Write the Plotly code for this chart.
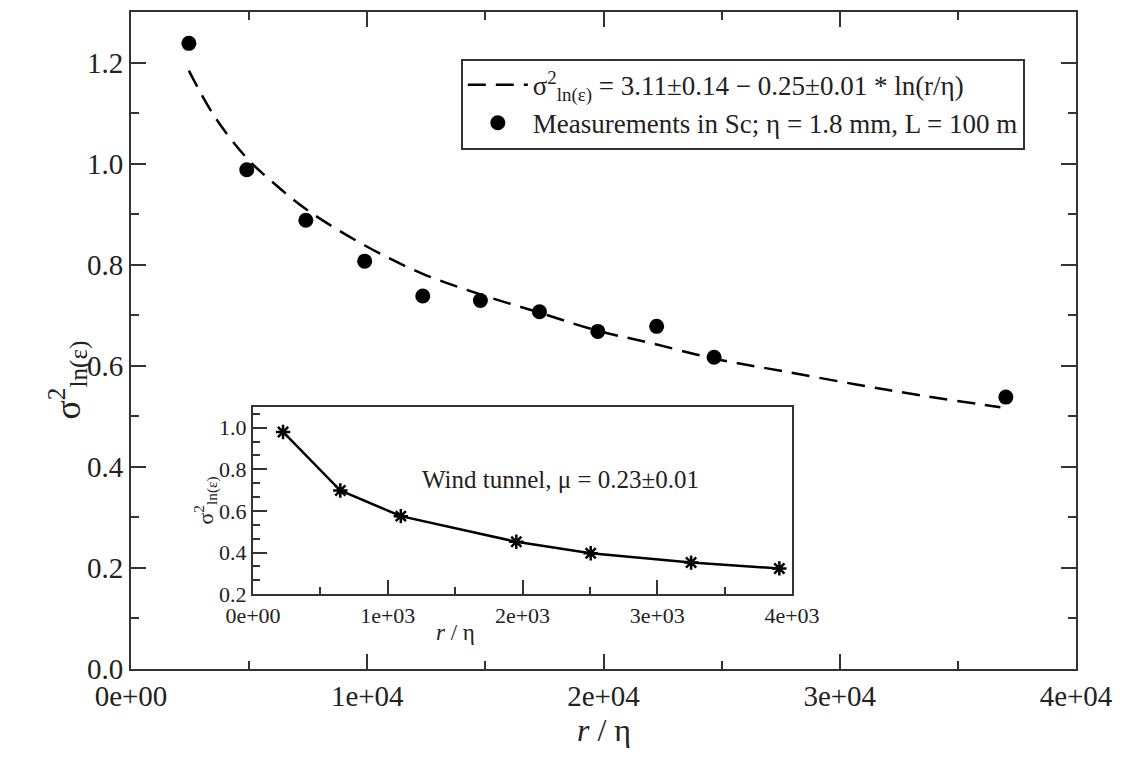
import plotly.graph_objects as go

# Main panel: measurements in the surface layer
r_meas = [2450, 4900, 7400, 9890, 12350, 14790, 17290, 19760, 22250, 24680, 37030]
sig_meas = [1.238, 0.988, 0.888, 0.807, 0.738, 0.729, 0.707, 0.668, 0.678, 0.617, 0.538]

# Fitted log curve
r_fit = [2450, 3500, 4900, 6000, 7400, 9900, 12300, 14800, 17300, 19700, 22000, 24700, 27500, 30700, 33500, 36800]
sig_fit = [1.184, 1.096, 1.011, 0.963, 0.910, 0.838, 0.783, 0.741, 0.705, 0.670, 0.645, 0.614, 0.590, 0.563, 0.541, 0.518]

# Inset: wind tunnel
r_wt = [223, 648, 1097, 1954, 2506, 3251, 3906]
sig_wt = [0.979, 0.698, 0.575, 0.452, 0.397, 0.352, 0.324]

x_ticks = [0, 10000, 20000, 30000, 40000]
x_tick_labels = ["0e+00", "1e+04", "2e+04", "3e+04", "4e+04"]
y_ticks = [0.0, 0.2, 0.4, 0.6, 0.8, 1.0, 1.2]
y_tick_labels = ["0.0", "0.2", "0.4", "0.6", "0.8", "1.0", "1.2"]
xi_ticks = [0, 1000, 2000, 3000, 4000]
xi_tick_labels = ["0e+00", "1e+03", "2e+03", "3e+03", "4e+03"]
yi_ticks = [0.2, 0.4, 0.6, 0.8, 1.0]
yi_tick_labels = ["0.2", "0.4", "0.6", "0.8", "1.0"]

FONT = "Liberation Serif"
FRAME = "#333333"
TXT = "#222"

fig = go.Figure()
fig.add_trace(go.Scatter(
    x=r_fit, y=sig_fit, mode="lines", line_shape="spline",
    line=dict(color="black", width=2.5, dash="18px,10px"),
    name="σ<sup>2</sup><sub>ln(ε)</sub> = 3.11±0.14 − 0.25±0.01 * ln(r/η)",
    xaxis="x", yaxis="y"))
fig.add_trace(go.Scatter(
    x=r_meas, y=sig_meas, mode="markers",
    marker=dict(color="black", size=15, symbol="circle"),
    name="Measurements in Sc; η = 1.8 mm, L = 100 m",
    xaxis="x", yaxis="y"))
fig.add_trace(go.Scatter(
    x=r_wt, y=sig_wt, mode="lines+markers",
    line=dict(color="black", width=2.5),
    marker=dict(symbol="asterisk-open", size=12, color="black", line=dict(color="black", width=2.5)),
    showlegend=False, xaxis="x2", yaxis="y2"))

axis_common = dict(showline=True, linecolor=FRAME, linewidth=2, ticks="inside",
                   tickcolor=FRAME, tickwidth=2, showgrid=False, zeroline=False)

fig.update_layout(
    width=1121, height=741,
    margin=dict(l=123, r=53, t=2, b=80),
    paper_bgcolor="white", plot_bgcolor="white",
    font=dict(family=FONT, color=TXT),
    xaxis=dict(domain=[0, 1], range=[0, 40000], tickvals=x_ticks, ticktext=x_tick_labels,
               mirror="allticks", ticklen=15, tickfont=dict(size=29),
               minor=dict(ticks="inside", ticklen=8, tick0=0, dtick=5000, tickcolor=FRAME, tickwidth=2),
               **axis_common),
    yaxis=dict(domain=[0, 1], range=[0, 1.3], tickvals=y_ticks, ticktext=y_tick_labels,
               mirror="allticks", ticklen=15, tickfont=dict(size=29),
               minor=dict(ticks="inside", ticklen=8, tick0=0, dtick=0.1, tickcolor=FRAME, tickwidth=2),
               **axis_common),
    xaxis2=dict(domain=[0.1291, 0.6995], range=[0, 4000], anchor="y2",
                tickvals=xi_ticks, ticktext=xi_tick_labels, mirror=True, ticklen=14,
                tickfont=dict(size=22),
                minor=dict(ticks="inside", ticklen=7, tick0=0, dtick=500, tickcolor=FRAME, tickwidth=2),
                **axis_common),
    yaxis2=dict(domain=[0.1138, 0.3991], range=[0.2, 1.1], anchor="x2",
                tickvals=yi_ticks, ticktext=yi_tick_labels, mirror=True, ticklen=14,
                tickfont=dict(size=22),
                minor=dict(ticks="inside", ticklen=7, tick0=0.2, dtick=0.2 / 3, tickcolor=FRAME, tickwidth=2),
                **axis_common),
    legend=dict(x=0.349, y=0.929, xanchor="left", yanchor="top",
                bgcolor="white", bordercolor=FRAME, borderwidth=2,
                font=dict(family=FONT, size=27, color=TXT),
                itemwidth=60, tracegroupgap=2),
    showlegend=True,
)

fig.add_annotation(text="<i>r</i> / η", x=0.5, y=-0.093, xref="paper", yref="paper",
                   showarrow=False, font=dict(size=32, family=FONT, color=TXT),
                   xanchor="center", yanchor="middle")
fig.add_annotation(text="σ<sup>2</sup><sub>ln(ε)</sub>", x=-0.066, y=0.44, xref="paper", yref="paper",
                   showarrow=False, textangle=-90, font=dict(size=36, family=FONT, color=TXT),
                   xanchor="center", yanchor="middle")
fig.add_annotation(text="Wind tunnel, μ = 0.23±0.01", x=2280, y=0.75, xref="x2", yref="y2",
                   showarrow=False, font=dict(size=25, family=FONT, color=TXT))
fig.add_annotation(text="<i>r</i> / η", x=0.375, y=0.056, xref="x2 domain", yref="paper",
                   showarrow=False, font=dict(size=23, family=FONT, color=TXT),
                   xanchor="center", yanchor="middle")
fig.add_annotation(text="σ<sup>2</sup><sub>ln(ε)</sub>", x=-0.089, y=0.5, xref="x2 domain", yref="y2 domain",
                   showarrow=False, textangle=-90, font=dict(size=22, family=FONT, color=TXT),
                   xanchor="center", yanchor="middle")

fig.write_html("out.html")
